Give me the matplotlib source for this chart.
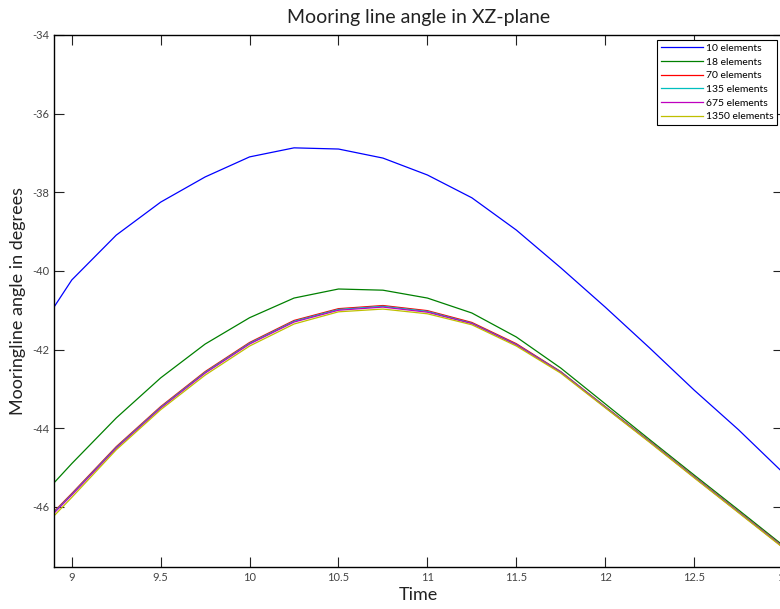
import numpy as np
import matplotlib.pyplot as plt

plt.rcParams['font.family'] = ['Lato', 'DejaVu Sans']
plt.rcParams['axes.unicode_minus'] = False

# time axis
time = [8.9, 9.0, 9.25, 9.5, 9.75, 10.0, 10.25, 10.5, 10.75, 11.0, 11.25,
        11.5, 11.75, 12.0, 12.25, 12.5, 12.75, 13.0]

el_10 = [-40.92, -40.23, -39.09, -38.25, -37.61, -37.10, -36.87, -36.90, -37.13,
         -37.56, -38.14, -38.96, -39.92, -40.92, -41.96, -43.03, -44.04, -45.13]
el_18 = [-45.39, -44.90, -43.74, -42.72, -41.86, -41.19, -40.69, -40.46, -40.49,
         -40.69, -41.07, -41.68, -42.47, -43.38, -44.29, -45.19, -46.08, -46.98]
el_70 = [-46.12, -45.66, -44.47, -43.45, -42.56, -41.82, -41.26, -40.96, -40.88,
         -41.01, -41.31, -41.85, -42.56, -43.45, -44.33, -45.23, -46.12, -47.01]
el_135 = [-46.14, -45.68, -44.49, -43.47, -42.58, -41.84, -41.28, -40.98, -40.90,
          -41.03, -41.33, -41.87, -42.57, -43.46, -44.34, -45.24, -46.13, -47.02]
el_675 = [-46.16, -45.70, -44.51, -43.49, -42.60, -41.86, -41.30, -41.00, -40.92,
          -41.05, -41.34, -41.88, -42.58, -43.47, -44.35, -45.25, -46.14, -47.03]
el_1350 = [-46.23, -45.76, -44.55, -43.53, -42.65, -41.91, -41.35, -41.04, -40.97,
           -41.09, -41.37, -41.91, -42.60, -43.48, -44.36, -45.26, -46.15, -47.04]

labels = ['10 elements', '18 elements', '70 elements', '135 elements',
          '675 elements', '1350 elements']
series = [el_10, el_18, el_70, el_135, el_675, el_1350]
colors = ['#0000ff', '#008000', '#ff0000', '#00bfbf', '#bf00bf', '#bfbf00']

fig = plt.figure(figsize=(7.8, 6.09), dpi=100)
ax = fig.add_axes([54 / 780, 42 / 609, 729 / 780, 532 / 609])

for vals, lab, c in zip(series, labels, colors):
    ax.plot(time, vals, color=c, lw=0.9, label=lab)

ax.set_xlim(8.9, 13.0)
ax.set_ylim(-47.53, -34)
ax.set_xticks(np.arange(9, 13.01, 0.5))
ax.set_xticklabels(['9', '9.5', '10', '10.5', '11', '11.5', '12', '12.5', '13'])
ax.set_yticks(np.arange(-46, -33, 2))
ax.tick_params(direction='in', length=7, width=0.8, labelsize=8,
               top=True, right=True, colors='#222222', labelcolor='#444444')
for s in ax.spines.values():
    s.set_linewidth(1.0)

ax.set_title('Mooring line angle in XZ-plane', fontsize=14, pad=9, color='#222222')
ax.set_xlabel('Time', fontsize=13, labelpad=3, color='#222222')
ax.set_ylabel('Mooringline angle in degrees', fontsize=13, labelpad=4, color='#222222')

leg = ax.legend(loc='upper right', bbox_to_anchor=(0.9918, 0.9906),
                fontsize=7.5, handlelength=4.0, handletextpad=0.3,
                labelspacing=0.42, borderpad=0.35, borderaxespad=0,
                fancybox=False, framealpha=1)
leg.get_frame().set_edgecolor('black')
leg.get_frame().set_linewidth(0.8)

fig.savefig('out.png', dpi=100)
